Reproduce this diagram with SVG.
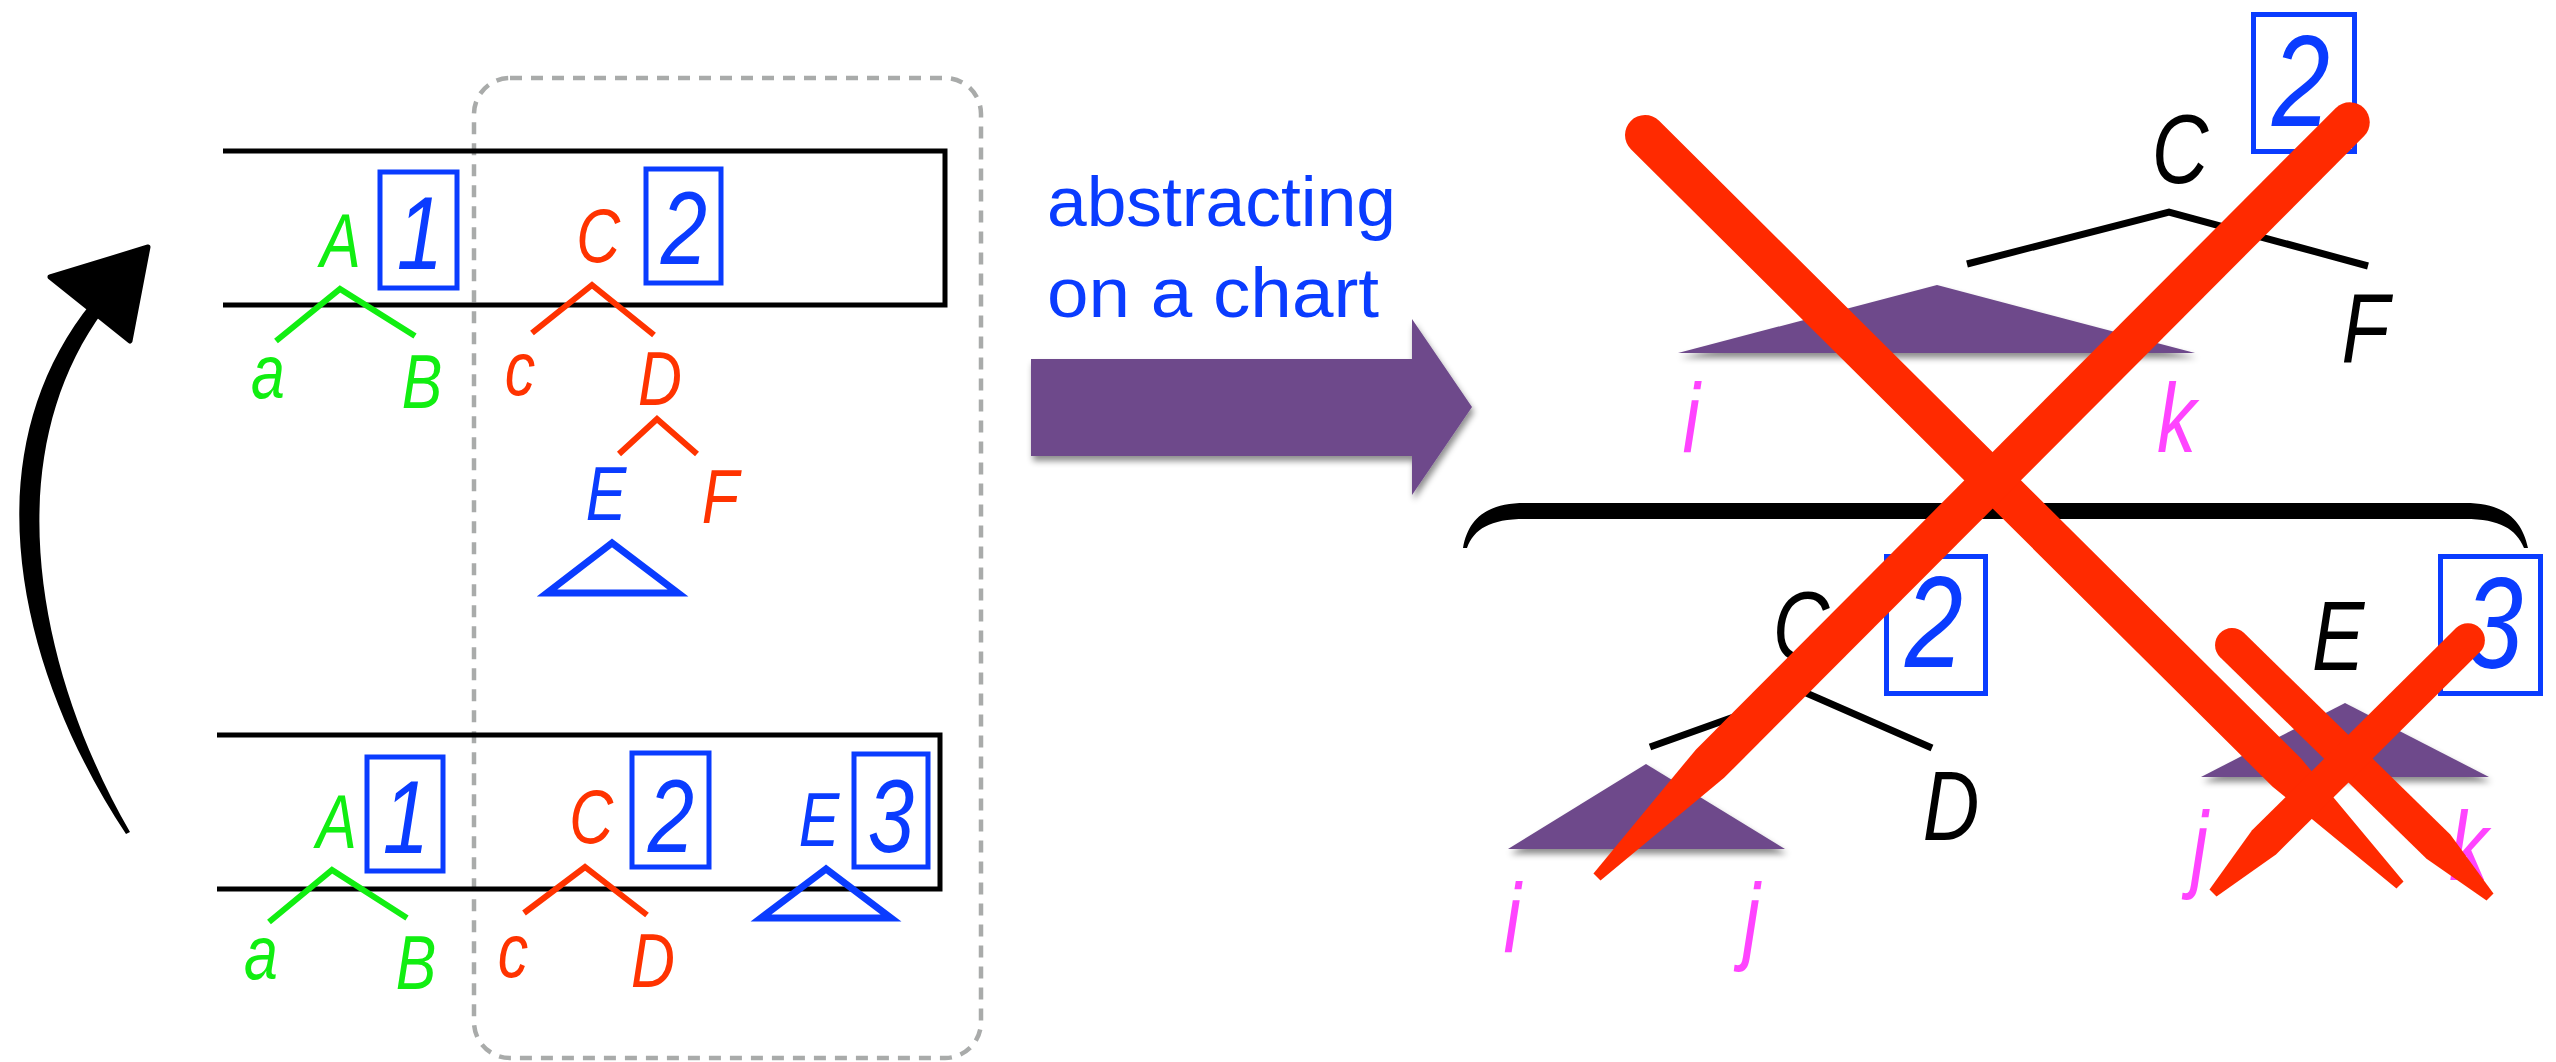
<svg xmlns="http://www.w3.org/2000/svg" width="2556" height="1062" viewBox="0 0 2556 1062">
<style>
.t{font-family:"Liberation Sans",Arial,sans-serif;font-style:italic;text-anchor:middle;transform-box:fill-box;transform-origin:center;transform:scaleX(0.8)}
.g{fill:#11ee11;font-size:76px}
.r{fill:#ff3300;font-size:76px}
.b{fill:#0a3cff;font-size:76px}
.num{fill:#0a3cff;font-size:104px}
.numR{fill:#0a3cff;font-size:130px}
.k{fill:#000;font-size:98px}
.p{fill:#ff44ff;font-size:98px}
.box{fill:none;stroke:#0a3cff;stroke-width:5}
.br{fill:none;stroke-width:6;stroke-linejoin:miter}
.chart{fill:none;stroke:#000;stroke-width:5}
.purple{fill:#6e4a8b;filter:url(#sh)}
.x{fill:#ff2a00}
.lbl{font-family:"Liberation Sans",Arial,sans-serif;fill:#0a3cff;font-size:70px}
</style>
<defs>
<filter id="sh" x="-10%" y="-20%" width="130%" height="150%">
<feDropShadow dx="2" dy="5" stdDeviation="3" flood-color="#000" flood-opacity="0.45"/>
</filter>
</defs>
<rect width="2556" height="1062" fill="#fff"/>

<!-- dashed region -->
<rect id="dashed-region" x="474" y="78" width="507" height="980" rx="36" ry="36" fill="none" stroke="#a9abaa" stroke-width="4.5" stroke-dasharray="12 9"/>

<!-- chart rows -->
<g id="chart-row-top"><path class="chart" d="M223 151 H945 V305 H223"/></g>
<g id="chart-row-bottom"><path class="chart" d="M217 735 H940 V889 H217"/></g>

<g id="connectors">
<!-- left top trees -->
<polyline class="br" stroke="#11ee11" points="276,341 340,289 415,336"/>
<polyline class="br" stroke="#ff3300" points="532,333 592,285 654,335"/>
<polyline class="br" stroke="#ff3300" points="619,454 657,419 697,454"/>
<!-- left bottom trees -->
<polyline class="br" stroke="#11ee11" points="269,922 332,870 407,918"/>
<polyline class="br" stroke="#ff3300" points="524,913 585,867 647,915"/>
<!-- right trees -->
<polyline fill="none" stroke="#000" stroke-width="7" points="1967,264 2169,212 2368,266"/>
<polyline fill="none" stroke="#000" stroke-width="7" points="1650,747 1804,692 1932,748"/>
<!-- curved black arrow -->
<path d="M126 834 C24 680 -36 460 92 302 L104 310 C-8 462 42 680 130 832 Z" fill="#000"/>
<polygon points="148,247 50,277 130,341" fill="#000" stroke="#000" stroke-width="5" stroke-linejoin="round"/>
<!-- big purple arrow -->
<polygon points="1031,359 1412,359 1412,319 1472,407 1412,495 1412,456 1031,456" fill="#6e4a8b" filter="url(#sh)"/>
</g>

<!-- left top row nodes -->
<g id="node-A1"><text class="t g" x="341" y="267">A</text>
<rect class="box" x="380" y="172" width="77" height="116"/><text class="t num" x="420" y="269">1</text></g>
<g id="node-a1"><text class="t g" x="268" y="398">a</text></g>
<g id="node-B1"><text class="t g" x="422" y="408">B</text></g>
<g id="node-C1"><text class="t r" x="598" y="262">C</text>
<rect class="box" x="646" y="169" width="75" height="114"/><text class="t num" x="684" y="264">2</text></g>
<g id="node-c1"><text class="t r" x="520" y="395">c</text></g>
<g id="node-D1"><text class="t r" x="660" y="405">D</text></g>
<g id="node-E1"><text class="t b" x="606" y="520">E</text>
<polygon points="612,543 547,593 678,593" fill="none" stroke="#0a3cff" stroke-width="7"/></g>
<g id="node-F1"><text class="t r" x="720" y="523">F</text></g>

<!-- left bottom row nodes -->
<g id="node-A2"><text class="t g" x="337" y="848">A</text>
<rect class="box" x="367" y="757" width="76" height="114"/><text class="t num" x="406" y="853">1</text></g>
<g id="node-a2"><text class="t g" x="261" y="979">a</text></g>
<g id="node-B2"><text class="t g" x="416" y="989">B</text></g>
<g id="node-C2"><text class="t r" x="591" y="843">C</text>
<rect class="box" x="632" y="753" width="77" height="114"/><text class="t num" x="671" y="852">2</text></g>
<g id="node-c2"><text class="t r" x="513" y="977">c</text></g>
<g id="node-D2"><text class="t r" x="653" y="987">D</text></g>
<g id="node-E2"><text class="t b" x="819" y="846">E</text>
<rect class="box" x="854" y="754" width="74" height="113"/><text class="t num" x="891" y="852">3</text>
<polygon points="826,869 761,918 891,918" fill="none" stroke="#0a3cff" stroke-width="7"/></g>

<!-- middle label -->
<g id="label-abstracting">
<text class="lbl" x="1047" y="226" textLength="349" lengthAdjust="spacingAndGlyphs">abstracting</text>
<text class="lbl" x="1047" y="317" textLength="332" lengthAdjust="spacingAndGlyphs">on a chart</text>
</g>

<!-- right top -->
<g id="node-C-top"><text class="t k" x="2180" y="183">C</text>
<rect class="box" x="2253.5" y="14.5" width="101" height="137"/><text class="t numR" x="2301" y="126">2</text></g>
<g id="node-span-ik"><polygon class="purple" points="1937,285 1678,353 2195,353"/>
<text class="t p" x="1691" y="452">i</text><text class="t p" x="2176" y="452">k</text></g>
<g id="node-F-top"><text class="t k" x="2365" y="362">F</text></g>

<!-- brace -->
<g id="brace"><path d="M1463 548 C1468 520 1485 503 1525 503 L2465 503 C2505 503 2522 520 2528 548 L2524 548 C2516 529 2500 519 2465 519 L1525 519 C1490 519 1474 529 1467 548 Z" fill="#000"/></g>

<!-- right bottom left subtree -->
<g id="node-C-low"><text class="t k" x="1801" y="660">C</text>
<rect class="box" x="1886.5" y="556.5" width="99" height="137"/><text class="t numR" x="1934" y="667">2</text></g>
<g id="node-span-ij"><polygon class="purple" points="1646,764 1508,849 1785,849"/>
<text class="t p" x="1512" y="952">i</text><text class="t p" x="1752" y="952">j</text></g>
<g id="node-D-low"><text class="t k" x="1951" y="840">D</text></g>

<!-- right bottom right subtree -->
<g id="node-E-low"><text class="t k" x="2338" y="670">E</text>
<rect class="box" x="2440.5" y="556.5" width="100" height="137"/><text class="t numR" x="2494" y="668">3</text></g>
<g id="node-span-jk"><polygon class="purple" points="2345,703 2201,777 2489,777"/>
<text class="t p" x="2200" y="880">j</text><text class="t p" x="2468" y="880">k</text></g>

<!-- red crosses -->
<g id="cross-big">
<path class="x" d="M1659.10 120.81 L2300.85 758.31 L2403.52 881.45 L2396.48 888.55 L2272.65 786.69 L1630.90 149.19 A20 20 0 0 1 1659.10 120.81 Z"/>
<path class="x" d="M2364.16 136.12 L1724.11 777.87 L1600.54 880.53 L1593.46 873.47 L1695.79 749.63 L2335.84 107.88 A20 20 0 0 1 2364.16 136.12 Z"/>
</g>
<g id="cross-small">
<path class="x" d="M2243.88 632.84 L2450.28 834.44 L2493.49 893.42 L2486.51 900.58 L2426.52 858.76 L2220.12 657.16 A17 17 0 0 1 2243.88 632.84 Z"/>
<path class="x" d="M2479.97 652.07 L2275.97 854.47 L2216.52 896.55 L2209.48 889.45 L2252.03 830.33 L2456.03 627.93 A17 17 0 0 1 2479.97 652.07 Z"/>
</g>
</svg>
